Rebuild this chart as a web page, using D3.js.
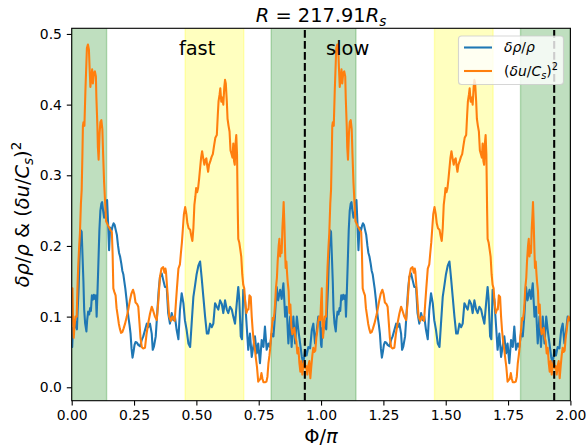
<!DOCTYPE html>
<html>
<head>
<meta charset="utf-8">
<script src="https://cdn.jsdelivr.net/npm/d3@7"></script>
<style>
  body { margin: 0; background: #fff; }
  svg { display: block; }
  text { font-family: "DejaVu Sans", sans-serif; fill: #000; }
</style>
</head>
<body>
<svg id="chart" width="587" height="448"></svg>
<script>
// One rotation of the fluctuation profiles, [phase Φ/π, value]; the profile repeats each rotation.
const densityTrace = [
  [0.000,0.060],[0.002,0.057],[0.005,0.084],[0.008,0.075],[0.010,0.090],[0.013,0.095],[0.017,0.085],[0.021,0.082],
  [0.024,0.110],[0.028,0.142],[0.031,0.178],[0.034,0.205],[0.037,0.222],[0.040,0.220],[0.043,0.190],[0.047,0.150],
  [0.050,0.110],[0.054,0.090],[0.059,0.079],[0.062,0.095],[0.066,0.107],[0.070,0.103],[0.074,0.112],[0.077,0.108],
  [0.081,0.130],[0.085,0.124],[0.089,0.131],[0.093,0.125],[0.097,0.130],[0.100,0.100],[0.103,0.130],[0.107,0.175],
  [0.111,0.222],[0.115,0.250],[0.119,0.260],[0.122,0.262],[0.126,0.250],[0.130,0.240],[0.134,0.243],[0.138,0.256],
  [0.142,0.265],[0.146,0.232],[0.150,0.194],[0.154,0.226],[0.160,0.222],[0.164,0.228],[0.168,0.232],[0.172,0.230],
  [0.177,0.222],[0.181,0.216],[0.186,0.200],[0.190,0.190],[0.194,0.185],[0.199,0.175],[0.203,0.165],[0.207,0.160],
  [0.211,0.150],[0.215,0.140],[0.220,0.124],[0.224,0.110],[0.228,0.098],[0.232,0.088],[0.236,0.076],[0.240,0.055],
  [0.244,0.042],[0.248,0.050],[0.252,0.060],[0.256,0.064],[0.262,0.063],[0.267,0.060],[0.274,0.058],[0.281,0.067],
  [0.287,0.072],[0.294,0.081],[0.301,0.090],[0.307,0.085],[0.314,0.090],[0.321,0.076],[0.325,0.053],[0.330,0.058],
  [0.337,0.072],[0.343,0.105],[0.349,0.138],[0.354,0.156],[0.361,0.161],[0.367,0.152],[0.374,0.142],[0.381,0.142],
  [0.387,0.105],[0.394,0.090],[0.401,0.105],[0.408,0.095],[0.414,0.100],[0.421,0.081],[0.428,0.068],[0.434,0.109],
  [0.441,0.133],[0.448,0.119],[0.454,0.095],[0.461,0.081],[0.468,0.062],[0.475,0.057],[0.481,0.090],[0.488,0.128],
  [0.495,0.145],[0.501,0.160],[0.508,0.172],[0.515,0.178],[0.521,0.156],[0.528,0.128],[0.535,0.100],[0.542,0.076],
  [0.548,0.076],[0.555,0.090],[0.562,0.085],[0.568,0.090],[0.575,0.119],[0.582,0.114],[0.588,0.110],[0.595,0.123],
  [0.602,0.118],[0.608,0.105],[0.615,0.123],[0.622,0.110],[0.628,0.105],[0.635,0.114],[0.642,0.110],[0.648,0.100],
  [0.655,0.090],[0.662,0.119],[0.668,0.142],[0.672,0.125],[0.678,0.072],[0.683,0.068],[0.688,0.138],[0.695,0.124],
  [0.702,0.086],[0.708,0.053],[0.715,0.076],[0.722,0.043],[0.728,0.057],[0.735,0.072],[0.742,0.048],[0.748,0.062],
  [0.755,0.034],[0.762,0.067],[0.769,0.057],[0.775,0.086],[0.782,0.053],[0.789,0.062],[0.795,0.057],[0.802,0.076],
  [0.809,0.072],[0.815,0.100],[0.822,0.142],[0.828,0.123],[0.836,0.138],[0.842,0.125],[0.849,0.147],[0.856,0.100],
  [0.862,0.114],[0.869,0.062],[0.876,0.100],[0.882,0.057],[0.889,0.100],[0.896,0.062],[0.903,0.100],[0.909,0.081],
  [0.916,0.062],[0.923,0.043],[0.929,0.034],[0.936,0.053],[0.942,0.045],[0.949,0.057],[0.956,0.055],[0.963,0.081],
  [0.969,0.090],[0.976,0.062],[0.983,0.081],[0.989,0.100],[0.996,0.095]
];

const velocityTrace = [
  [0.000,0.120],[0.003,0.140],[0.005,0.100],[0.008,0.070],[0.011,0.085],[0.015,0.100],[0.020,0.100],[0.023,0.140],
  [0.026,0.170],[0.030,0.200],[0.033,0.218],[0.037,0.260],[0.040,0.279],[0.043,0.330],[0.045,0.370],[0.047,0.375],
  [0.051,0.370],[0.055,0.420],[0.059,0.460],[0.061,0.480],[0.065,0.485],[0.069,0.478],[0.072,0.450],[0.075,0.425],
  [0.079,0.440],[0.082,0.450],[0.085,0.430],[0.089,0.445],[0.093,0.447],[0.097,0.440],[0.099,0.410],[0.103,0.370],
  [0.105,0.340],[0.108,0.322],[0.112,0.360],[0.115,0.375],[0.119,0.378],[0.123,0.365],[0.126,0.330],[0.130,0.290],
  [0.134,0.262],[0.138,0.235],[0.142,0.232],[0.147,0.228],[0.152,0.225],[0.156,0.222],[0.161,0.220],[0.164,0.190],
  [0.167,0.140],[0.171,0.135],[0.176,0.130],[0.180,0.112],[0.185,0.100],[0.189,0.090],[0.193,0.083],[0.198,0.077],
  [0.203,0.078],[0.208,0.083],[0.214,0.090],[0.221,0.100],[0.227,0.110],[0.233,0.122],[0.239,0.132],[0.246,0.138],
  [0.251,0.132],[0.256,0.120],[0.262,0.118],[0.267,0.114],[0.272,0.090],[0.276,0.070],[0.281,0.057],[0.286,0.055],
  [0.294,0.056],[0.300,0.075],[0.307,0.091],[0.314,0.104],[0.321,0.114],[0.327,0.108],[0.334,0.100],[0.341,0.095],
  [0.347,0.120],[0.354,0.156],[0.360,0.168],[0.367,0.170],[0.372,0.162],[0.376,0.168],[0.378,0.164],[0.385,0.130],
  [0.391,0.100],[0.398,0.094],[0.404,0.100],[0.408,0.098],[0.413,0.094],[0.418,0.120],[0.422,0.140],[0.428,0.168],
  [0.434,0.174],[0.438,0.190],[0.442,0.205],[0.446,0.225],[0.450,0.245],[0.455,0.255],[0.460,0.245],[0.464,0.232],
  [0.469,0.225],[0.475,0.223],[0.479,0.215],[0.484,0.207],[0.488,0.225],[0.492,0.258],[0.496,0.270],[0.499,0.282],
  [0.503,0.276],[0.507,0.282],[0.511,0.295],[0.515,0.310],[0.519,0.325],[0.523,0.334],[0.527,0.325],[0.532,0.315],
  [0.536,0.322],[0.540,0.324],[0.544,0.312],[0.547,0.305],[0.551,0.315],[0.556,0.320],[0.561,0.326],[0.566,0.330],
  [0.571,0.342],[0.576,0.353],[0.582,0.357],[0.586,0.386],[0.589,0.405],[0.593,0.414],[0.596,0.423],[0.600,0.404],
  [0.604,0.410],[0.608,0.400],[0.612,0.425],[0.615,0.435],[0.618,0.430],[0.622,0.405],[0.625,0.380],[0.629,0.370],
  [0.633,0.362],[0.637,0.335],[0.641,0.330],[0.645,0.325],[0.648,0.345],[0.651,0.320],[0.654,0.315],[0.657,0.345],
  [0.660,0.357],[0.663,0.330],[0.666,0.250],[0.668,0.210],[0.672,0.205],[0.676,0.195],[0.680,0.185],[0.684,0.160],
  [0.688,0.145],[0.692,0.140],[0.696,0.120],[0.701,0.105],[0.705,0.110],[0.709,0.110],[0.713,0.130],[0.718,0.128],
  [0.722,0.100],[0.726,0.080],[0.731,0.062],[0.735,0.053],[0.739,0.040],[0.743,0.029],[0.748,0.008],[0.752,0.010],
  [0.757,0.012],[0.761,0.020],[0.765,0.012],[0.769,0.007],[0.775,0.007],[0.781,0.008],[0.785,0.015],[0.789,0.034],
  [0.793,0.045],[0.796,0.055],[0.799,0.070],[0.803,0.085],[0.806,0.098],[0.809,0.095],[0.813,0.105],[0.816,0.120],
  [0.819,0.140],[0.823,0.155],[0.826,0.178],[0.830,0.200],[0.833,0.210],[0.836,0.185],[0.839,0.200],[0.842,0.190],
  [0.845,0.225],[0.848,0.245],[0.850,0.262],[0.853,0.230],[0.856,0.190],[0.858,0.169],[0.861,0.178],[0.864,0.160],
  [0.866,0.150],[0.870,0.136],[0.873,0.105],[0.877,0.117],[0.881,0.085],[0.885,0.075],[0.889,0.080],[0.893,0.084],
  [0.897,0.070],[0.901,0.065],[0.905,0.048],[0.909,0.056],[0.913,0.035],[0.917,0.022],[0.921,0.037],[0.925,0.018],
  [0.929,0.030],[0.933,0.037],[0.937,0.027],[0.941,0.030],[0.945,0.018],[0.949,0.030],[0.953,0.037],[0.957,0.013],
  [0.961,0.030],[0.965,0.045],[0.969,0.056],[0.973,0.050],[0.977,0.052],[0.981,0.070],[0.985,0.080],[0.989,0.093],
  [0.993,0.100],[0.997,0.095]
];

const rotations = [0, 1];
const slowSpans = [[0, 0.14], [0.8, 1.14], [1.8, 2.0]];
const fastSpans = [[0.455, 0.69], [1.455, 1.69]];
const currentSheetPhases = [0.935, 1.935];
const regionLabels = [["fast", 0.43, 0.47], ["slow", 1.02, 0.47]];
const xTicks = [0, 0.25, 0.5, 0.75, 1.0, 1.25, 1.5, 1.75, 2.0];
const yTicks = [0, 0.1, 0.2, 0.3, 0.4, 0.5];
const xDomain = [0, 2];
const yDomain = [-0.019, 0.508];

const W = 587, H = 448;
const plot = { left: 71.7, right: 570.4, top: 28.3, bottom: 400.7 };
const svg = d3.select("#chart");

const x = d3.scaleLinear().domain(xDomain).range([plot.left, plot.right]);
const y = d3.scaleLinear().domain(yDomain).range([plot.bottom, plot.top]);

// Repeat the single-rotation profile over both rotations.
const unroll = trace => rotations.flatMap(k => trace.map(([p, v]) => [p + k, v]));
const density = unroll(densityTrace);
const velocity = unroll(velocityTrace);

svg.append("defs").append("clipPath").attr("id", "plotClip")
  .append("rect")
  .attr("x", plot.left).attr("y", plot.top)
  .attr("width", plot.right - plot.left).attr("height", plot.bottom - plot.top);

const body = svg.append("g").attr("clip-path", "url(#plotClip)");

// Shaded sectors
function spans(list, color) {
  body.append("g").selectAll("rect").data(list).join("rect")
    .attr("x", d => x(d[0]))
    .attr("y", plot.top - 5)
    .attr("width", d => x(d[1]) - x(d[0]))
    .attr("height", plot.bottom - plot.top + 10)
    .attr("fill", color).attr("fill-opacity", 0.25)
    .attr("stroke", color).attr("stroke-opacity", 0.25).attr("stroke-width", 1.4);
}
spans(slowSpans, "green");
spans(fastSpans, "yellow");

const line = d3.line().x(d => x(d[0])).y(d => y(d[1]));
const lineStyle = sel => sel.attr("fill", "none").attr("stroke-width", 2.08)
  .attr("stroke-linejoin", "round").attr("stroke-linecap", "square");

body.append("path").datum(density).attr("d", line).attr("stroke", "#1f77b4").call(lineStyle);
body.append("path").datum(velocity).attr("d", line).attr("stroke", "#ff7f0e").call(lineStyle);

body.append("g").selectAll("line").data(currentSheetPhases).join("line")
  .attr("x1", d => x(d)).attr("x2", d => x(d))
  .attr("y1", plot.bottom).attr("y2", plot.top)
  .attr("stroke", "#000").attr("stroke-width", 2.08)
  .attr("stroke-dasharray", "7.7,3.3");

// Sector labels
svg.append("g").selectAll("text").data(regionLabels).join("text")
  .attr("x", d => x(d[1])).attr("y", d => y(d[2]))
  .attr("font-size", 19.4)
  .text(d => d[0]);

// Axes
const tickFont = 13.9;
const xAxis = d3.axisBottom(x).tickValues(xTicks).tickFormat(d3.format(".2f"))
  .tickSize(4.9).tickPadding(4.9).tickSizeOuter(0);
const yAxis = d3.axisLeft(y).tickValues(yTicks).tickFormat(d3.format(".1f"))
  .tickSize(4.9).tickPadding(4.9).tickSizeOuter(0);

const gx = svg.append("g").attr("transform", `translate(0,${plot.bottom})`).call(xAxis);
const gy = svg.append("g").attr("transform", `translate(${plot.left},0)`).call(yAxis);
[gx, gy].forEach(g => {
  g.select(".domain").remove();
  g.selectAll(".tick line").attr("stroke", "#000").attr("stroke-width", 1.1);
  g.selectAll(".tick text").attr("font-size", tickFont)
    .attr("font-family", "DejaVu Sans, sans-serif").attr("fill", "#000");
});

svg.append("rect")
  .attr("x", plot.left).attr("y", plot.top)
  .attr("width", plot.right - plot.left).attr("height", plot.bottom - plot.top)
  .attr("fill", "none").attr("stroke", "#000").attr("stroke-width", 1.1);

// Math-style text built from segments: {t, it, sub, sup}
function richText(sel, parts, size) {
  parts.forEach(p => {
    const ts = sel.append("tspan").text(p.t);
    if (p.it) ts.attr("font-style", "italic");
    if (p.sub) ts.attr("font-size", size * 0.7).attr("dy", size * 0.22);
    else if (p.sup) ts.attr("font-size", size * 0.7).attr("dy", -size * 0.4);
    if (p.back) ts.attr("dy", p.back);
  });
}

const densityLabel = [{ t: "δρ", it: true }, { t: "/" }, { t: "ρ", it: true }];
const velocityLabel = (size) => [
  { t: "(" }, { t: "δu", it: true }, { t: "/" }, { t: "C", it: true },
  { t: "s", it: true, sub: true }, { t: ")", back: -size * 0.22 }, { t: "2", sup: true }
];

// Title
const title = svg.append("text").attr("x", (plot.left + plot.right) / 2).attr("y", 21.5)
  .attr("text-anchor", "middle").attr("font-size", 19.4);
richText(title, [{ t: "R", it: true }, { t: " = 217.91" }, { t: "R", it: true }, { t: "s", it: true, sub: true }], 19.4);

// Axis labels
const xl = svg.append("text").attr("x", (plot.left + plot.right) / 2).attr("y", 443)
  .attr("text-anchor", "middle").attr("font-size", 19.4);
richText(xl, [{ t: "Φ" }, { t: "/" }, { t: "π", it: true }], 19.4);

const yl = svg.append("text")
  .attr("transform", `translate(29,${(plot.top + plot.bottom) / 2}) rotate(-90)`)
  .attr("text-anchor", "middle").attr("font-size", 19.4);
richText(yl, [...densityLabel, { t: " & " }, ...velocityLabel(19.4)], 19.4);

// Legend
const lg = svg.append("g");
lg.append("rect").attr("x", 458.5).attr("y", 36).attr("width", 105).attr("height", 48.5)
  .attr("rx", 3).attr("fill", "#fff").attr("fill-opacity", 0.8)
  .attr("stroke", "#cccccc").attr("stroke-opacity", 0.8).attr("stroke-width", 1.1);
const legendRows = [
  { color: "#1f77b4", parts: densityLabel, yy: 47.5 },
  { color: "#ff7f0e", parts: velocityLabel(13.9), yy: 71 }
];
legendRows.forEach(r => {
  lg.append("line").attr("x1", 464).attr("x2", 492).attr("y1", r.yy).attr("y2", r.yy)
    .attr("stroke", r.color).attr("stroke-width", 2.08);
  const t = lg.append("text").attr("x", 504).attr("y", r.yy + 4.8).attr("font-size", 13.9);
  richText(t, r.parts, 13.9);
});
</script>
</body>
</html>
